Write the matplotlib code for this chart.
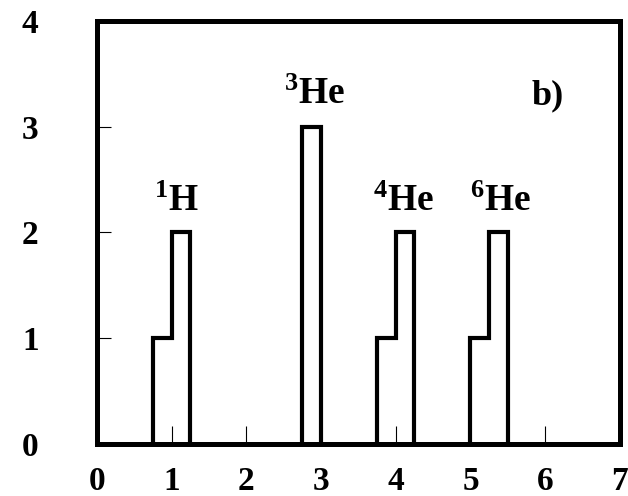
import matplotlib.pyplot as plt

plt.rcParams['font.family'] = ['Liberation Serif', 'DejaVu Serif']
plt.rcParams['font.weight'] = 'bold'
plt.rcParams['mathtext.fontset'] = 'custom'
plt.rcParams['mathtext.rm'] = 'Liberation Serif:bold'
plt.rcParams['mathtext.it'] = 'Liberation Serif:bold'
plt.rcParams['mathtext.bf'] = 'Liberation Serif:bold'

# bin edges and counts for each isotope peak
h1_edges = [0.75, 1.0, 1.25]
h1_counts = [1, 2]
he3_edges = [2.75, 3.0]
he3_counts = [3]
he4_edges = [3.75, 4.0, 4.25]
he4_counts = [1, 2]
he6_edges = [5.0, 5.25, 5.5]
he6_counts = [1, 2]

labels = [r'$^{1}$H', r'$^{3}$He', r'$^{4}$He', r'$^{6}$He']
label_x = [1.06, 2.91, 4.1, 5.4]
label_y = [2.2, 3.21, 2.2, 2.2]

fig = plt.figure(figsize=(6.28, 4.96), dpi=100)
ax = fig.add_axes([0.1545, 0.1048, 0.8325, 0.853])

for edges, counts in [(h1_edges, h1_counts), (he3_edges, he3_counts),
                      (he4_edges, he4_counts), (he6_edges, he6_counts)]:
    ax.stairs(counts, edges, baseline=0, color='black', linewidth=3.0)

for lab, x, y in zip(labels, label_x, label_y):
    ax.text(x, y, lab, ha='center', va='baseline', fontsize=27,
            fontweight='bold')
ax.text(6.03, 3.21, 'b)', ha='center', va='baseline', fontsize=26,
        fontweight='bold')

ax.set_xlim(0, 7)
ax.set_ylim(0, 4)
ax.set_xticks(range(8))
ax.set_yticks(range(5))
ax.tick_params(axis='x', direction='in', length=13, width=0.8,
               labelsize=24, pad=16)
ax.tick_params(axis='y', direction='in', length=10, width=0.8,
               labelsize=24, pad=42)
for lab in ax.get_xticklabels() + ax.get_yticklabels():
    lab.set_fontweight('bold')
for sp in ax.spines.values():
    sp.set_linewidth(3.6)

fig.savefig('out.png', dpi=100)
